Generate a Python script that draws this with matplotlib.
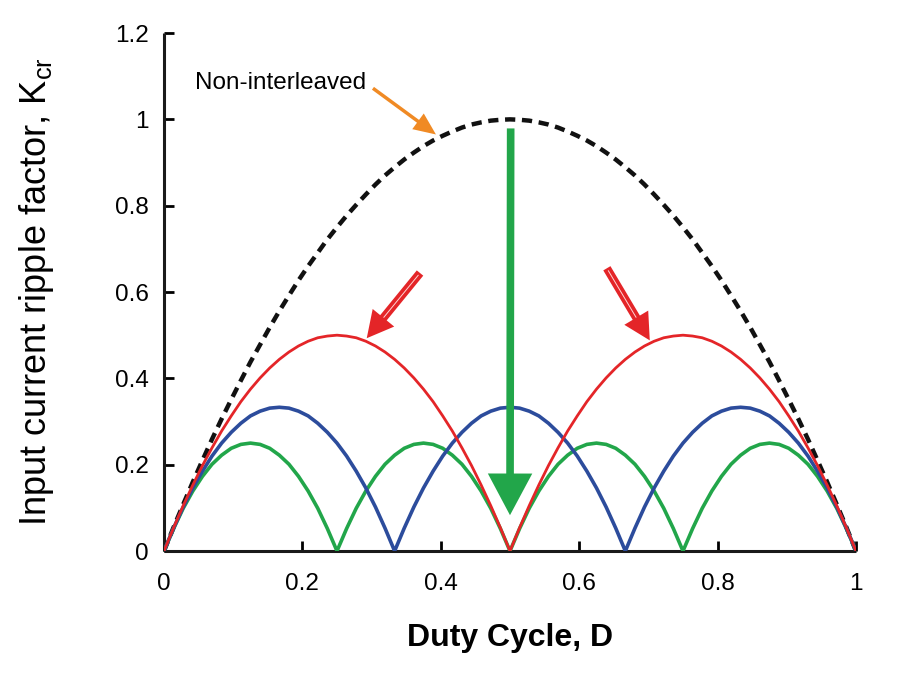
import matplotlib
matplotlib.use("Agg")
import matplotlib.pyplot as plt

plt.rcParams['font.family'] = ['Liberation Sans', 'DejaVu Sans']
plt.rcParams['mathtext.fontset'] = 'custom'
plt.rcParams['mathtext.rm'] = 'Liberation Sans'
plt.rcParams['mathtext.it'] = 'Liberation Sans'

# duty cycle samples (D = k/72)
duty = [0, .0139, .0278, .0417, .0556, .0694, .0833, .0972, .1111, .125,
        .1389, .1528, .1667, .1806, .1944, .2083, .2222, .2361, .25, .2639,
        .2778, .2917, .3056, .3194, .3333, .3472, .3611, .375, .3889, .4028,
        .4167, .4306, .4444, .4583, .4722, .4861, .5, .5139, .5278, .5417,
        .5556, .5694, .5833, .5972, .6111, .625, .6389, .6528, .6667, .6806,
        .6944, .7083, .7222, .7361, .75, .7639, .7778, .7917, .8056, .8194,
        .8333, .8472, .8611, .875, .8889, .9028, .9167, .9306, .9444, .9583,
        .9722, .9861, 1]

# non-interleaved
k_single = [0, .055, .108, .160, .210, .259, .306, .351, .395, .438,
            .478, .518, .556, .592, .627, .660, .691, .722, .750, .777,
            .802, .826, .849, .870, .889, .907, .923, .938, .951, .962,
            .972, .981, .988, .993, .997, .999, 1.0,
            .999, .997, .993, .988, .981, .972, .962, .951, .938, .923,
            .907, .889, .870, .849, .826, .802, .777, .750, .722, .691,
            .660, .627, .592, .556, .518, .478, .438, .395, .351, .306,
            .259, .210, .160, .108, .055, 0]

# 2 phases
k_two = [0, .054, .105, .153, .198, .239, .278, .313, .346, .375,
         .401, .424, .444, .461, .475, .486, .494, .498, .5,
         .498, .494, .486, .475, .461, .444, .424, .401, .375, .346,
         .313, .278, .239, .198, .153, .105, .054, 0,
         .054, .105, .153, .198, .239, .278, .313, .346, .375,
         .401, .424, .444, .461, .475, .486, .494, .498, .5,
         .498, .494, .486, .475, .461, .444, .424, .401, .375, .346,
         .313, .278, .239, .198, .153, .105, .054, 0]

# 3 phases
k_three = [0, .053, .102, .146, .185, .220, .250, .275, .296, .313, .324, .331, .333,
           .331, .324, .313, .296, .275, .250, .220, .185, .146, .102, .053, 0,
           .053, .102, .146, .185, .220, .250, .275, .296, .313, .324, .331, .333,
           .331, .324, .313, .296, .275, .250, .220, .185, .146, .102, .053, 0,
           .053, .102, .146, .185, .220, .250, .275, .296, .313, .324, .331, .333,
           .331, .324, .313, .296, .275, .250, .220, .185, .146, .102, .053, 0]

# 4 phases
k_four = [0, .052, .099, .139, .173, .201, .222, .238, .247, .25,
          .247, .238, .222, .201, .173, .139, .099, .052, 0,
          .052, .099, .139, .173, .201, .222, .238, .247, .25,
          .247, .238, .222, .201, .173, .139, .099, .052, 0,
          .052, .099, .139, .173, .201, .222, .238, .247, .25,
          .247, .238, .222, .201, .173, .139, .099, .052, 0,
          .052, .099, .139, .173, .201, .222, .238, .247, .25,
          .247, .238, .222, .201, .173, .139, .099, .052, 0]

x_ticks = [0, 0.2, 0.4, 0.6, 0.8, 1]
x_labels = ['0', '0.2', '0.4', '0.6', '0.8', '1']
y_ticks = [0, 0.2, 0.4, 0.6, 0.8, 1, 1.2]
y_labels = ['0', '0.2', '0.4', '0.6', '0.8', '1', '1.2']

RED = '#e42528'
BLUE = '#2c4c9c'
GREEN = '#22a64a'
ORANGE = '#f08a24'

fig = plt.figure(figsize=(9, 6.88), dpi=100)
ax = fig.add_axes([0.1822, 0.1991, 0.7689, 0.7529])

ax.plot(duty, k_single, color='#111111', lw=3.2, linestyle=(0, (2.3, 1.5)),
        dash_capstyle='butt', zorder=2)
ax.plot(duty, k_four, color=GREEN, lw=2.6, zorder=3)
ax.plot(duty, k_three, color=BLUE, lw=2.6, zorder=4)
ax.plot(duty, k_two, color=RED, lw=2.0, zorder=5)

# arrows
ax.annotate('', xy=(0.393, 0.965), xytext=(0.302, 1.072),
            arrowprops=dict(arrowstyle='simple,head_width=1.4,head_length=1.6,tail_width=0.25',
                            mutation_scale=10, color=ORANGE, lw=0, shrinkA=0, shrinkB=0))
ax.text(0.045, 1.085, 'Non-interleaved', fontsize=17.5, va='center', ha='left')

for tail, tip in [((0.370, 0.644), (0.293, 0.493)), ((0.640, 0.655), (0.702, 0.488))]:
    ax.annotate('', xy=tip, xytext=tail,
                arrowprops=dict(arrowstyle='simple,head_width=2.0,head_length=1.9,tail_width=0.6',
                                mutation_scale=10, color=RED, lw=0, shrinkA=0, shrinkB=0),
                zorder=6)
    ax.annotate('', xy=(tail[0] + 0.68 * (tip[0] - tail[0]), tail[1] + 0.68 * (tip[1] - tail[1])),
                xytext=tail,
                arrowprops=dict(arrowstyle='-', color='#ffd6d6', lw=0.7, shrinkA=2, shrinkB=0),
                zorder=7)

ax.annotate('', xy=(0.5, 0.083), xytext=(0.501, 0.979),
            arrowprops=dict(arrowstyle='simple,head_width=3.2,head_length=3.0,tail_width=0.55',
                            mutation_scale=10, color=GREEN, lw=0, shrinkA=0, shrinkB=0),
            zorder=8)

ax.set_xlim(0, 1)
ax.set_ylim(0, 1.2)
ax.set_xticks(x_ticks)
ax.set_xticklabels(x_labels)
ax.set_yticks(y_ticks)
ax.set_yticklabels(y_labels)
ax.tick_params(direction='in', length=7, width=2, labelsize=17.5)
ax.tick_params(axis='x', pad=16)
ax.tick_params(axis='y', pad=11)
for side in ['top', 'right']:
    ax.spines[side].set_visible(False)
for side in ['left', 'bottom']:
    ax.spines[side].set_linewidth(2.2)
    ax.spines[side].set_color('#1a1a1a')
    ax.spines[side].set_capstyle('butt')

ax.set_xlabel('Duty Cycle, D', fontsize=23, fontweight='bold', labelpad=20)
ax.set_ylabel('Input current ripple factor, K$_{\\mathrm{cr}}$', fontsize=26, labelpad=42)

fig.savefig('out.png', dpi=100)
